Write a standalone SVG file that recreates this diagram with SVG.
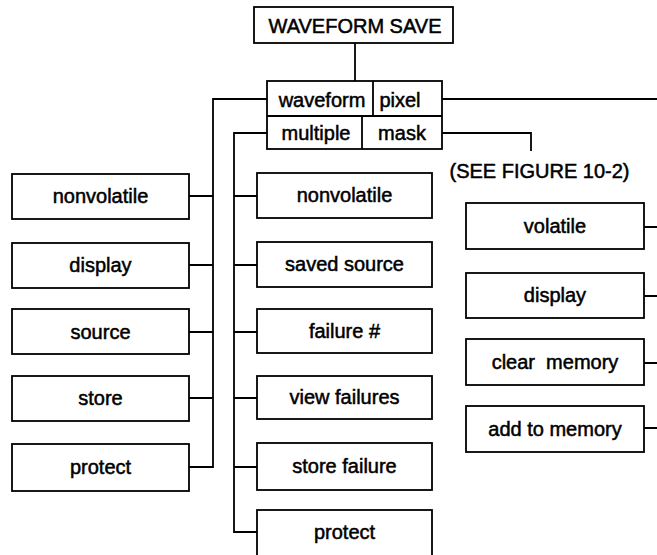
<svg xmlns="http://www.w3.org/2000/svg" width="657" height="555" viewBox="0 0 657 555">
<style>
.box{fill:#fff;stroke:#000;stroke-width:1.8}
.ln{fill:none;stroke:#000;stroke-width:1.8}
text{font-family:"Liberation Sans",Arial,Helvetica,sans-serif;font-size:20px;fill:#000;text-anchor:middle;stroke:#000;stroke-width:0.5}
</style>
<rect width="657" height="555" fill="#fff"/>
<g id="connectors">
<path class="ln" d="M355 43V81"/>
<path class="ln" d="M442 99H657"/>
<path class="ln" d="M442 133H531V151"/>
<path class="ln" d="M267 99H213V467H189"/>
<path class="ln" d="M189 196H213M189 265H213M189 332H213M189 398H213"/>
<path class="ln" d="M267 133H234V532H257"/>
<path class="ln" d="M234 196H257M234 265H257M234 332H257M234 398H257M234 467H257"/>
<path class="ln" d="M644 227H657M644 296H657M644 363H657M644 428H657"/>
</g>
<g id="waveform-save"><rect class="box" x="254" y="7" width="199" height="36"/><text x="355" y="33">WAVEFORM SAVE</text></g>
<g id="menu">
<rect class="box" x="267" y="81" width="175" height="68"/>
<path class="ln" d="M267 116H442M373 81V116M362 116V149"/>
<text x="322" y="107">waveform</text>
<text x="400" y="107">pixel</text>
<text x="316" y="140">multiple</text>
<text x="402" y="140">mask</text>
</g>
<g id="see-figure"><text x="539.5" y="178">(SEE FIGURE 10-2)</text></g>
<g id="l-nonvolatile"><rect class="box" x="12" y="174" width="177" height="45"/><text x="100.5" y="203">nonvolatile</text></g>
<g id="l-display"><rect class="box" x="12" y="243" width="177" height="45"/><text x="100.5" y="272">display</text></g>
<g id="l-source"><rect class="box" x="12" y="309" width="177" height="45"/><text x="100.5" y="339">source</text></g>
<g id="l-store"><rect class="box" x="12" y="376" width="177" height="45"/><text x="100.5" y="405">store</text></g>
<g id="l-protect"><rect class="box" x="12" y="444" width="177" height="47"/><text x="100.5" y="474">protect</text></g>
<g id="m-nonvolatile"><rect class="box" x="257" y="173" width="175" height="45"/><text x="344.5" y="202">nonvolatile</text></g>
<g id="m-saved-source"><rect class="box" x="257" y="242" width="175" height="45"/><text x="344.5" y="271">saved source</text></g>
<g id="m-failure"><rect class="box" x="257" y="309" width="175" height="44"/><text x="344.5" y="338">failure #</text></g>
<g id="m-view-failures"><rect class="box" x="257" y="376" width="175" height="43"/><text x="344.5" y="404">view failures</text></g>
<g id="m-store-failure"><rect class="box" x="257" y="443" width="175" height="47"/><text x="344.5" y="473">store failure</text></g>
<g id="m-protect"><rect class="box" x="257" y="510" width="175" height="50"/><text x="344.5" y="539">protect</text></g>
<g id="r-volatile"><rect class="box" x="466" y="203" width="178" height="46"/><text x="555" y="233">volatile</text></g>
<g id="r-display"><rect class="box" x="466" y="273" width="178" height="45"/><text x="555" y="302">display</text></g>
<g id="r-clear-memory"><rect class="box" x="466" y="339" width="178" height="46"/><text x="555" y="369" xml:space="preserve">clear  memory</text></g>
<g id="r-add-to-memory"><rect class="box" x="466" y="406" width="178" height="46"/><text x="555" y="436">add to memory</text></g>
</svg>
